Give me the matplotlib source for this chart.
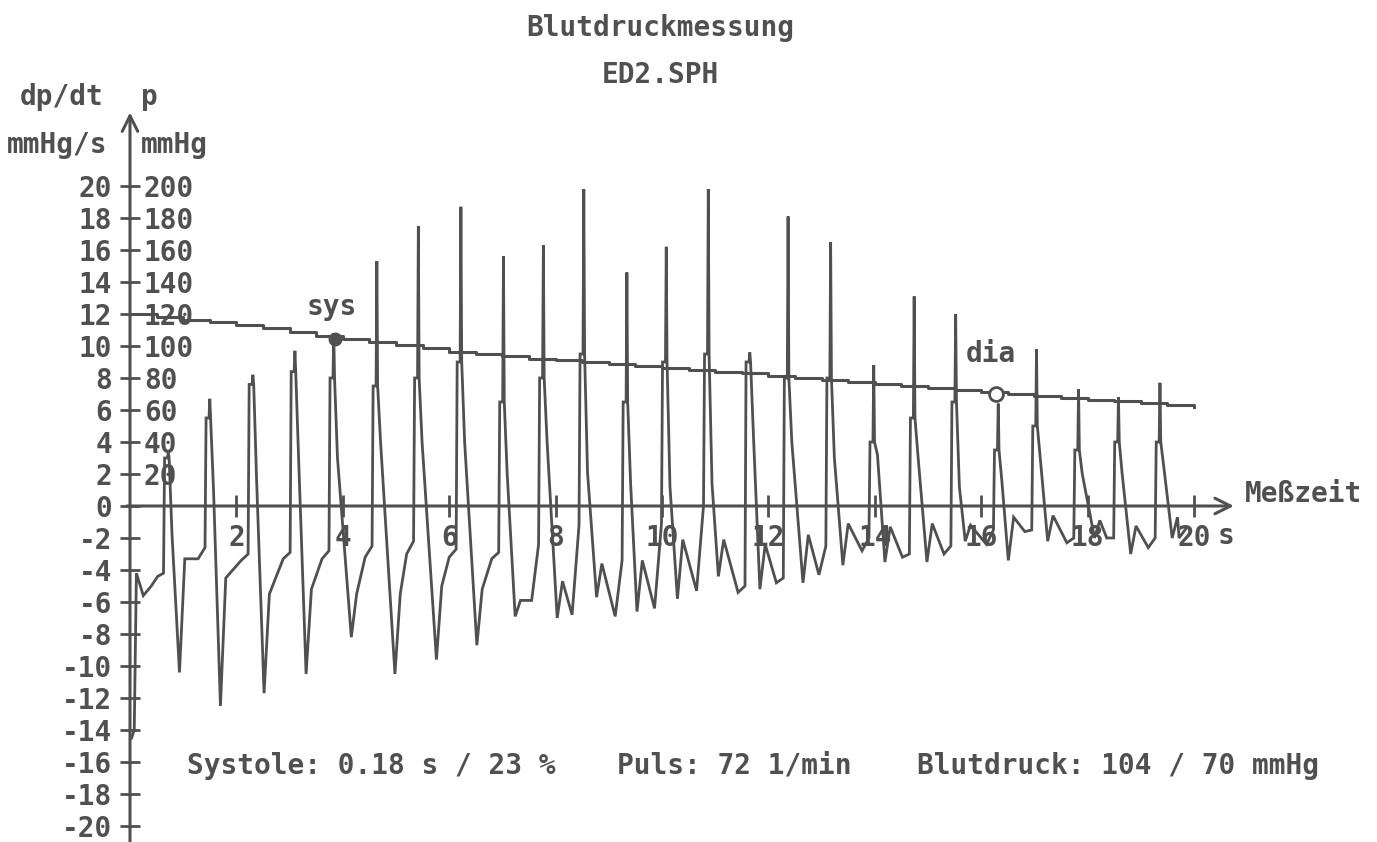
import matplotlib
matplotlib.use("Agg")
import matplotlib.pyplot as plt

plt.rcParams['axes.unicode_minus'] = False

W, H = 1377, 842
INK = '#505050'
FONT = dict(family='DejaVu Sans Mono', weight='bold', color=INK, fontsize=20)

# pressure (cuff) p in mmHg, read every 0.5 s
p_t = [0.0, 0.5, 1.0, 1.5, 2.0, 2.5, 3.0, 3.5, 4.0, 4.5, 5.0, 5.5, 6.0, 6.5, 7.0,
       7.5, 8.0, 8.5, 9.0, 9.5, 10.0, 10.5, 11.0, 11.5, 12.0, 12.5, 13.0, 13.5,
       14.0, 14.5, 15.0, 15.5, 16.0, 16.5, 17.0, 17.5, 18.0, 18.5, 19.0, 19.5, 20.0]
p_val = [120, 118, 116.5, 115, 113, 111, 109, 106.5, 104.5, 102.5, 100.5, 98.5,
         96.5, 95, 93.5, 92, 91, 90, 88.5, 87.5, 86, 85, 84, 83, 81.5, 80, 79,
         77.5, 76, 75, 73.5, 72.5, 71, 70, 68.5, 67.5, 66.5, 65.5, 64.5, 63, 62]

sys_t, sys_p = 3.85, 104.5
dia_t, dia_p = 16.28, 70.0

# dp/dt trace, start of recording
lead_t = [0.03, 0.08, 0.12, 0.25, 0.40, 0.52]
lead_v = [-14.5, -14.0, -4.2, -5.6, -5.0, -4.4]

# dp/dt, one entry per heart beat (mmHg/s)
peak_t = [0.72, 1.50, 2.31, 3.10, 3.83, 4.64, 5.42, 6.22, 7.02, 7.77, 8.53, 9.34, 10.08,
          10.87, 11.65, 12.37, 13.17, 13.98, 14.74, 15.52, 16.32, 17.04, 17.83, 18.58, 19.36]
peak_v = [3.4, 6.7, 8.2, 9.7, 10.8, 15.3, 17.5, 18.7, 15.6, 16.3, 19.8, 14.6, 16.2,
          19.8, 9.6, 18.1, 16.5, 8.8, 13.1, 12.0, 6.4, 9.8, 7.3, 6.8, 7.7]
pre_v = [-4.2, -2.6, -3.0, -2.9, -2.8, -2.5, -2.2, -2.7, -2.9, -2.4, -1.2, -3.4, -1.1,
         0.0, -5.0, -4.5, -2.5, -2.0, -3.0, -2.5, -1.5, -1.5, -2.0, -2.0, -2.0]
mid_v = [3.0, 5.5, 7.6, 8.4, 8.0, 7.5, 8.0, 9.0, 6.5, 8.0, 9.5, 6.5, 9.0,
         9.5, 9.0, 8.0, 8.0, 4.0, 5.5, 6.5, 3.5, 5.0, 3.5, 4.0, 4.0]
shoulder_v = [-1.8, 1.0, 1.6, 2.9, 3.0, 4.0, 4.0, 4.0, 2.0, 4.0, 2.1, 1.4, 1.2,
              1.4, 4.3, 4.0, 3.0, 3.2, 3.2, 1.2, 1.5, 3.0, 2.0, 2.0, 2.5]
trough_dt = [0.21, 0.20, 0.21, 0.21, 0.33, 0.34, 0.34, 0.30, 0.22, 0.26, 0.24, 0.19, 0.21,
             0.19, 0.19, 0.28, 0.23, 0.21, 0.24, 0.18, 0.19, 0.21, 0.30, 0.23, 0.23]
trough_v = [-10.4, -12.5, -11.7, -10.5, -8.2, -10.5, -9.6, -8.7, -6.9, -7.0, -5.7, -6.6, -5.8,
            -4.4, -5.2, -4.8, -3.7, -3.5, -3.5, -2.2, -3.4, -2.2, -2.0, -3.0, -2.0]
bump_v = [-3.3, -4.5, -5.5, -5.2, -5.5, -5.5, -5.0, -5.2, -5.9, -4.7, -3.6, -3.4, -2.1,
          -2.1, -2.4, -1.8, -1.1, -1.3, -1.1, -1.2, -0.7, -0.6, -0.9, -1.25, -0.7]
dip2_v = [-3.3, -3.4, -3.3, -3.3, -3.2, -3.0, -3.2, -3.3, -5.9, -6.8, -6.9, -6.4, -5.3,
          -5.4, -4.8, -4.3, -2.8, -3.2, -3.0, -2.4, -1.6, -2.3, -2.0, -2.6, -2.0]
end_t, end_v = 19.85, -1.4

# build the dp/dt polyline from the per-beat readings
tr_t = list(lead_t)
tr_v = list(lead_v)
n = len(peak_t)
for i in range(n):
    tp = peak_t[i]
    nxt = peak_t[i + 1] if i + 1 < n else tp + 0.58
    tr_t += [tp - 0.09, tp - 0.07, tp - 0.015, tp, tp + 0.015, tp + 0.07,
             tp + trough_dt[i], tp + trough_dt[i] + 0.1, nxt - 0.22]
    tr_v += [pre_v[i], mid_v[i], mid_v[i], peak_v[i], mid_v[i], shoulder_v[i],
             trough_v[i], bump_v[i], dip2_v[i]]
tr_t.append(end_t)
tr_v.append(end_v)

fig = plt.figure(figsize=(W / 100, H / 100), dpi=100)
ax = fig.add_axes([0, 0, 1, 1])
x0, sx = 130, 53.2   # pixel of t=0, pixels per second
y0, sy = 506, 16.0   # pixel of dp/dt=0, pixels per unit
ax.set_xlim(-x0 / sx, (W - x0) / sx)
ax.set_ylim(-(H - y0) / sy, y0 / sy)
ax.patch.set_visible(False)

ax2 = ax.twinx()
ax2.set_ylim(ax.get_ylim()[0] * 10, ax.get_ylim()[1] * 10)

for a in (ax, ax2):
    for s in a.spines.values():
        s.set_visible(False)

# axes with open arrow heads
arrow = dict(arrowstyle='->', lw=2.2, color=INK, mutation_scale=28, shrinkA=0, shrinkB=0)
ax.annotate('', xy=(0, 24.6), xytext=(0, -21.0), arrowprops=arrow)
ax.annotate('', xy=(20.75, 0), xytext=(-0.06, 0), arrowprops=arrow)

# ticks on the axis lines
ax.spines['left'].set_position(('data', 0))
ax.spines['bottom'].set_position(('data', 0))
ax2.spines['right'].set_position(('data', 0))

yt = list(range(-20, 21, 2))
ax.set_yticks(yt)
ax.set_yticklabels([str(v) for v in yt])
ax.tick_params(axis='y', direction='inout', length=14, width=2, color=INK, pad=6)
xt = list(range(2, 21, 2))
ax.set_xticks(xt)
ax.set_xticklabels([str(v) for v in xt])
ax.tick_params(axis='x', direction='inout', length=16, width=2, color=INK, pad=5)
for lab in ax.get_xticklabels() + ax.get_yticklabels():
    lab.set_fontfamily(FONT['family'])
    lab.set_fontweight('bold')
    lab.set_fontsize(20)
    lab.set_color(INK)

pt = list(range(20, 201, 20))
ax2.set_yticks(pt)
ax2.set_yticklabels([str(v) for v in pt])
ax2.tick_params(axis='y', length=0, pad=10)
for lab in ax2.get_yticklabels():
    lab.set_fontfamily(FONT['family'])
    lab.set_fontweight('bold')
    lab.set_fontsize(20)
    lab.set_color(INK)

# curves
ax.plot(tr_t, tr_v, color=INK, lw=2.0, solid_joinstyle='miter')
ax2.plot(p_t, p_val, color=INK, lw=2.2, drawstyle='steps-post')
ax2.plot([sys_t], [sys_p], 'o', ms=9, color=INK)
ax2.plot([dia_t], [dia_p], 'o', ms=10, mfc='white', mec=INK, mew=2)
ax2.text(sys_t - 0.05, sys_p + 20, 'sys', ha='center', va='center', **FONT)
ax2.text(dia_t - 0.1, dia_p + 25, 'dia', ha='center', va='center', **FONT)


def ftext(px, py, s, ha='center'):
    fig.text(px / W, 1 - py / H, s, ha=ha, va='center', **FONT)


ftext(660, 28, 'Blutdruckmessung')
ftext(660, 75, 'ED2.SPH')
ftext(62, 97, 'dp/dt')
ftext(149, 97, 'p')
ftext(57, 145, 'mmHg/s')
ftext(174, 145, 'mmHg')
ftext(1245, 494, 'Meßzeit', ha='left')
ftext(1218, 536, 's', ha='left')
ftext(187, 766, 'Systole: 0.18 s / 23 %', ha='left')
ftext(617, 766, 'Puls: 72 1/min', ha='left')
ftext(917, 766, 'Blutdruck: 104 / 70 mmHg', ha='left')

fig.savefig('out.png', dpi=100, facecolor='white')
